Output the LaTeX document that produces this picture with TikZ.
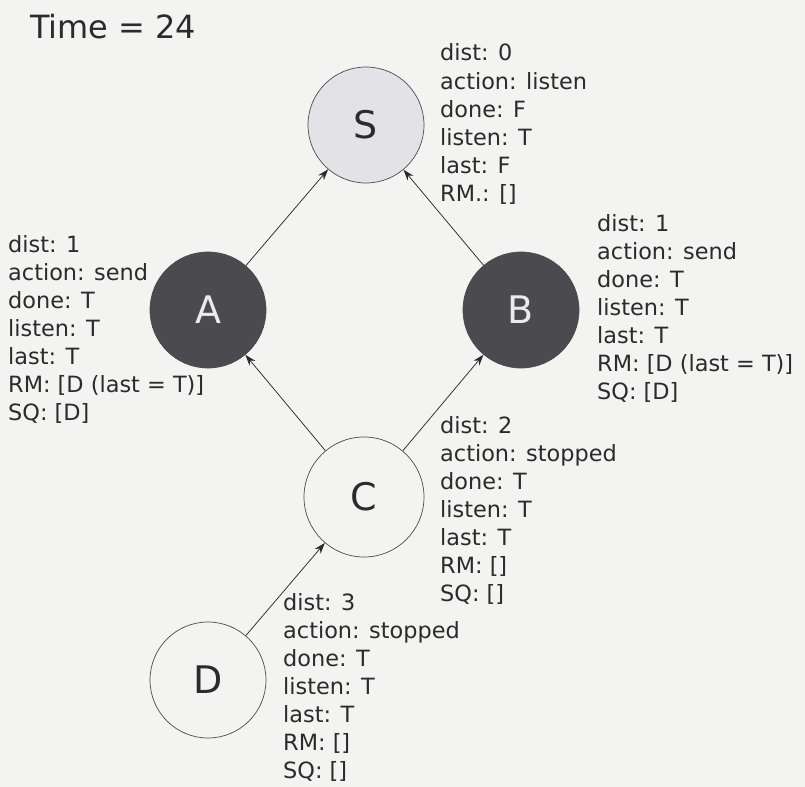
\documentclass[tikz,border=0pt]{standalone}
\usepackage{fontspec}
\setmainfont{DejaVu Sans}
\usetikzlibrary{arrows.meta}

\definecolor{paper}{HTML}{F3F3F1}
\definecolor{ink}{HTML}{2B2B2D}
\definecolor{lightnode}{HTML}{E3E3E7}
\definecolor{darknode}{HTML}{4A4A4F}

% a block of state variables, first baseline at the node's base
\newcommand{\stateblock}[1]{\parbox[t]{240bp}{\raggedright #1}}

\begin{document}
\begin{tikzpicture}[x=1bp,y=-1bp,
  radio/.style={circle, draw=ink!85, line width=0.7bp, minimum size=116bp,
    inner sep=0pt, font=\fontsize{38bp}{44bp}\selectfont, text=ink},
  listener/.style={radio, fill=lightnode},
  sender/.style={radio, fill=darknode, text=white!92!black},
  idle/.style={radio, fill=paper},
  state/.style={anchor=base west, inner sep=0pt, text=ink,
    font=\fontsize{22.4bp}{28bp}\selectfont},
  link/.style={draw=ink, line width=0.75bp, -{Stealth[length=11bp,width=7.5bp]}}
]
% page
\fill[paper] (0,0) rectangle (805,787);
\useasboundingbox (0,0) rectangle (805,787);

% title
\node[anchor=base west, inner sep=0pt, text=ink,
  font=\fontsize{32bp}{38bp}\selectfont] (title) at (30,39) {Time = 24};

% radios
\node[listener] (S) at (366,125) {S};
\node[sender]   (A) at (208,310) {A};
\node[sender]   (B) at (521,310) {B};
\node[idle, minimum size=120bp] (C) at (364,497) {C};
\node[idle]     (D) at (208,680) {D};

% routing links towards the sink
\draw[link] (A) -- (S);
\draw[link] (B) -- (S);
\draw[link] (C) -- (A);
\draw[link] (C) -- (B);
\draw[link] (D) -- (C);

% state of each radio
\node[state] (Sinfo) at (440,61) {\stateblock{dist: 0\\action: listen\\done: F\\listen: T\\last: F\\RM.: []}};
\node[state] (Ainfo) at (8,252) {\stateblock{dist: 1\\action: send\\done: T\\listen: T\\last: T\\RM: [D (last = T)]\\SQ: [D]}};
\node[state] (Binfo) at (597,231) {\stateblock{dist: 1\\action: send\\done: T\\listen: T\\last: T\\RM: [D (last = T)]\\SQ: [D]}};
\node[state] (Cinfo) at (440,433) {\stateblock{dist: 2\\action: stopped\\done: T\\listen: T\\last: T\\RM: []\\SQ: []}};
\node[state] (Dinfo) at (283,610) {\stateblock{dist: 3\\action: stopped\\done: T\\listen: T\\last: T\\RM: []\\SQ: []}};
\end{tikzpicture}
\end{document}
